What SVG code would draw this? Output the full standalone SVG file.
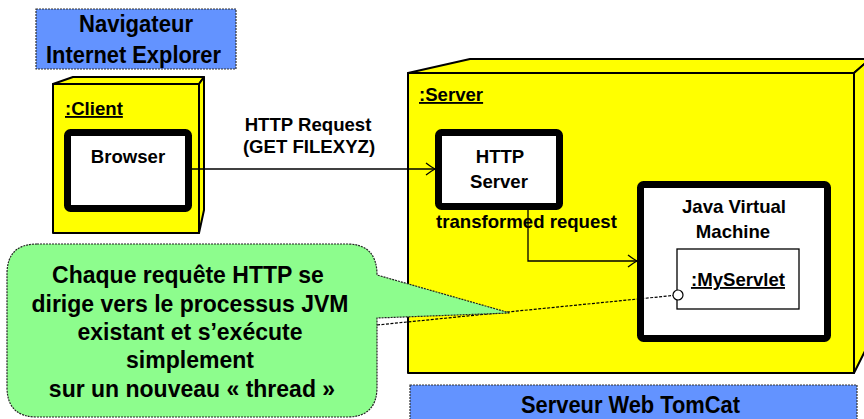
<svg xmlns="http://www.w3.org/2000/svg" width="864" height="419" viewBox="0 0 864 419">
<style>
.t{font-family:"Liberation Sans",Arial,sans-serif;fill:#000}
.b{font-weight:bold;font-size:18.6px}
.lbl{font-size:24px;font-weight:bold}
.call{font-weight:bold;font-size:23px}
.node3d{fill:#FFFF00;stroke:#000;stroke-width:2;stroke-linejoin:round}
.comp{fill:#fff;stroke:#000;stroke-width:7}
.blue{fill:#6393FF;stroke:#333;stroke-width:1.2;stroke-dasharray:2 1}
.conn{fill:none;stroke:#000;stroke-width:1.3}
</style>
<defs>
<marker id="open" viewBox="-11 -8 12 16" markerWidth="12" markerHeight="16" refX="0" refY="0" orient="auto" markerUnits="userSpaceOnUse">
<path d="M-9,-6 Q-3,-1.5 0,0 Q-3,1.5 -9,6" fill="none" stroke="#000" stroke-width="1.3"/>
</marker>
</defs>

<g id="navigateur-label">
<rect class="blue" x="36" y="9" width="200" height="60"/>
<text class="t lbl" x="79" y="32" textLength="114" lengthAdjust="spacingAndGlyphs">Navigateur</text>
<text class="t lbl" x="46" y="63" textLength="175" lengthAdjust="spacingAndGlyphs">Internet Explorer</text>
</g>

<g id="client">
<polygon class="node3d" points="53,84 73,77 204,77 199,84"/>
<polygon class="node3d" points="199,84 204,77 204,210 199,233"/>
<rect class="node3d" x="53" y="84" width="146" height="149"/>
<text class="t b" x="65" y="115" text-decoration="underline">:Client</text>
</g>

<g id="browser">
<rect class="comp" x="67.5" y="132.5" width="121" height="76" rx="3"/>
<text class="t b" x="128" y="163" text-anchor="middle">Browser</text>
</g>

<g id="server">
<polygon class="node3d" points="408,73 470,59 870,59 854,73"/>
<polygon class="node3d" points="854,73 870,59 870,341 854,373"/>
<rect class="node3d" x="408" y="73" width="446" height="300"/>
<text class="t b" x="419" y="101" text-decoration="underline">:Server</text>
</g>

<g id="http-server">
<rect class="comp" x="438.5" y="132.5" width="121" height="74" rx="3"/>
<text class="t b" x="500" y="163" text-anchor="middle">HTTP</text>
<text class="t b" x="499" y="188" text-anchor="middle">Server</text>
</g>

<g id="jvm">
<rect class="comp" x="640.5" y="184.5" width="187" height="154" rx="3"/>
<text class="t b" x="734" y="213" text-anchor="middle">Java Virtual</text>
<text class="t b" x="733" y="238" text-anchor="middle">Machine</text>
</g>

<g id="myservlet">
<rect x="677" y="249" width="122" height="60" fill="#fff" stroke="#000" stroke-width="1.3"/>
<text class="t b" x="738" y="286" text-anchor="middle" text-decoration="underline">:MyServlet</text>
</g>

<g id="tomcat-label">
<rect class="blue" x="410" y="385" width="447" height="40"/>
<text class="t lbl" x="521" y="413" textLength="219" lengthAdjust="spacingAndGlyphs">Serveur Web TomCat</text>
</g>

<g id="connectors">
<line class="conn" x1="192" y1="169" x2="435" y2="169" marker-end="url(#open)"/>
<text class="t b" x="308" y="131" text-anchor="middle">HTTP Request</text>
<text class="t b" x="309" y="153" text-anchor="middle">(GET FILEXYZ)</text>
<polyline class="conn" points="528,210 528,261 637,261" marker-end="url(#open)"/>
<text class="t b" x="436" y="228">transformed request</text>
<line x1="377" y1="325" x2="673" y2="295.5" stroke="#000" stroke-width="1.2" stroke-dasharray="3 1.5"/>
<circle cx="678" cy="295" r="5" fill="#fff" stroke="#000" stroke-width="1.2"/>
</g>

<g id="callout">
<path d="M37,244 H347 Q377,244 377,275 L510,313 L377,318 V387 Q377,417 347,417 H37 Q7,417 7,387 V274 Q7,244 37,244 Z" fill="#8DFD8D" stroke="#222" stroke-width="1.2" stroke-dasharray="2 1"/>
<text class="t call" x="188" y="283" text-anchor="middle">Chaque requête HTTP se</text>
<text class="t call" x="190" y="312" text-anchor="middle">dirige vers le processus JVM</text>
<text class="t call" x="190" y="340" text-anchor="middle">existant et s’exécute</text>
<text class="t call" x="190" y="368" text-anchor="middle">simplement</text>
<text class="t call" x="192" y="397" text-anchor="middle">sur un nouveau « thread »</text>
</g>
</svg>
